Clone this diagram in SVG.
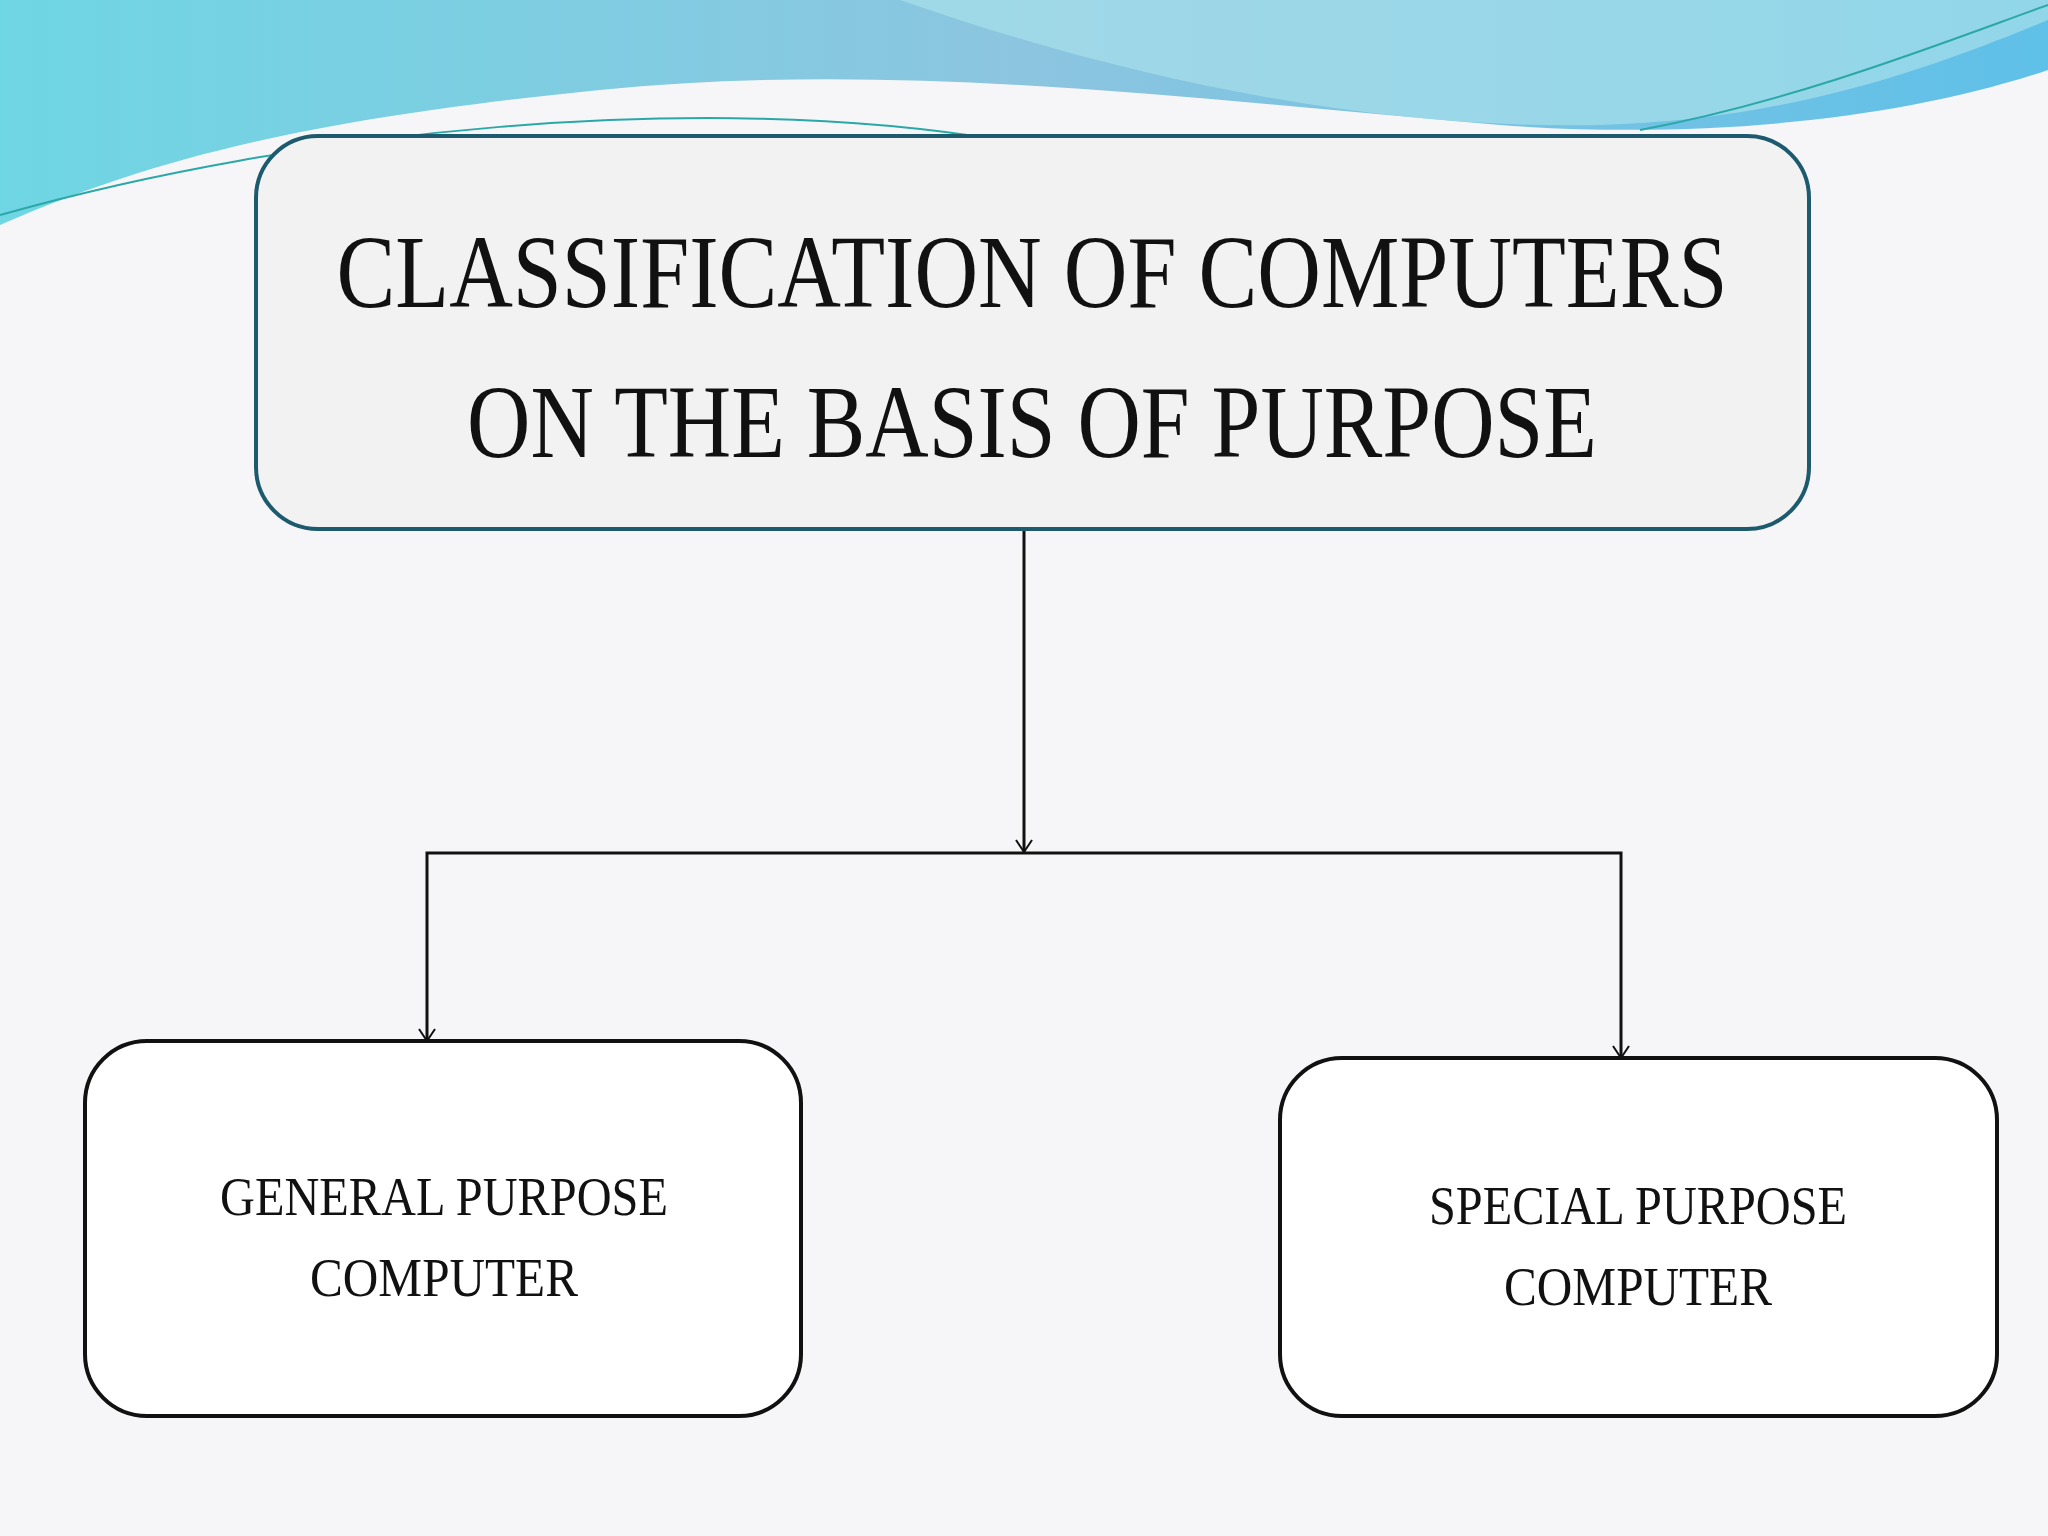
<svg xmlns="http://www.w3.org/2000/svg" width="2048" height="1536" viewBox="0 0 2048 1536">
<defs>
<linearGradient id="wave" x1="0" y1="0" x2="1" y2="0">
<stop offset="0" stop-color="#6fd6e3"/><stop offset="0.5" stop-color="#8cc5e0"/><stop offset="1" stop-color="#5fc0e8"/>
</linearGradient>
<marker id="arr" viewBox="0 0 20 20" refX="18" refY="10" markerWidth="20" markerHeight="20" markerUnits="userSpaceOnUse" orient="auto-start-reverse">
<path d="M6 2 L18 10 L6 18" fill="none" stroke="#111" stroke-width="2"/>
</marker>
<style>
.t{font-family:"Liberation Serif",serif;fill:#111;text-anchor:middle}
.big{font-size:104px}
.small{font-size:54px}
.c{fill:none;stroke:#111;stroke-width:3}
</style>
</defs>
<rect width="2048" height="1536" fill="#f6f6f8"/>
<path d="M0 0 H2048 V70 C1900 120 1700 140 1500 125 C1200 100 900 60 600 90 C300 120 150 160 0 225 Z" fill="url(#wave)"/>
<path d="M900 0 C1100 70 1350 130 1600 125 C1800 120 1950 60 2048 20 V0 Z" fill="#a8e0ea" opacity="0.7"/>
<path d="M0 215 C300 130 700 90 1000 140" fill="none" stroke="#2aa8a8" stroke-width="2"/>
<path d="M1640 130 C1800 100 1950 40 2048 5" fill="none" stroke="#2aa8a8" stroke-width="2"/>
<g id="connectors">
<line class="c" x1="1024" y1="529" x2="1024" y2="852" marker-end="url(#arr)"/>
<polyline class="c" points="427,1041 427,853 1621,853 1621,1058" marker-start="url(#arr)" marker-end="url(#arr)"/>
</g>
<g id="root">
<rect x="256" y="136" width="1553" height="393" rx="62" fill="#f2f2f3" stroke="#1d5a6e" stroke-width="4"/>
<text class="t big" x="1032" y="307" textLength="1391" lengthAdjust="spacingAndGlyphs">CLASSIFICATION OF COMPUTERS</text>
<text class="t big" x="1032" y="457" textLength="1130" lengthAdjust="spacingAndGlyphs">ON THE BASIS OF PURPOSE</text>
</g>
<g id="general">
<rect x="85" y="1041" width="716" height="375" rx="62" fill="#fff" stroke="#111" stroke-width="4"/>
<text class="t small" x="444" y="1215" textLength="448" lengthAdjust="spacingAndGlyphs">GENERAL PURPOSE</text>
<text class="t small" x="444" y="1296" textLength="268" lengthAdjust="spacingAndGlyphs">COMPUTER</text>
</g>
<g id="special">
<rect x="1280" y="1058" width="717" height="358" rx="62" fill="#fff" stroke="#111" stroke-width="4"/>
<text class="t small" x="1638" y="1224" textLength="418" lengthAdjust="spacingAndGlyphs">SPECIAL PURPOSE</text>
<text class="t small" x="1638" y="1305" textLength="268" lengthAdjust="spacingAndGlyphs">COMPUTER</text>
</g>
</svg>
